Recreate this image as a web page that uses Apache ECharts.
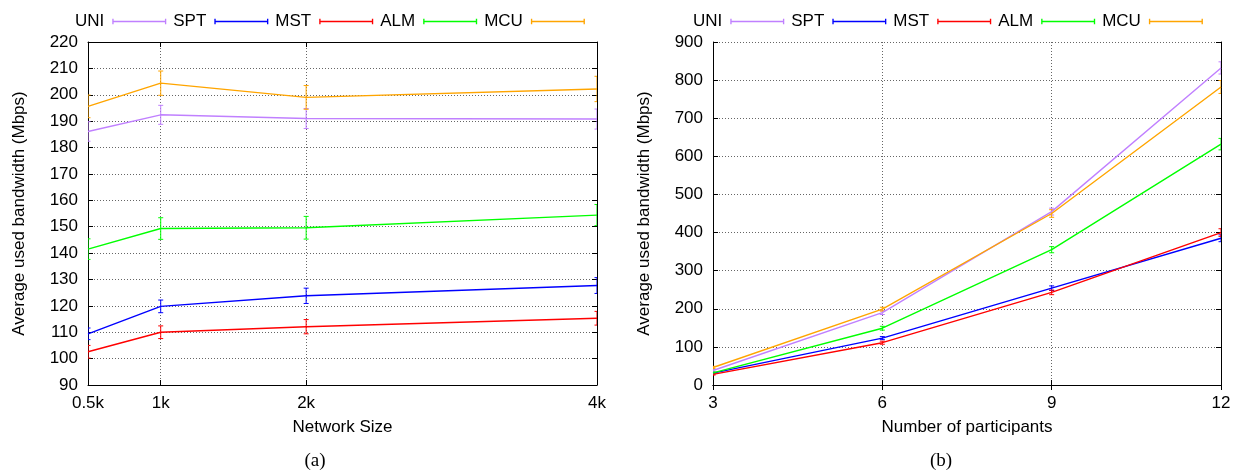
<!DOCTYPE html>
<html>
<head>
<meta charset="utf-8">
<script src="https://cdn.jsdelivr.net/npm/echarts@6/dist/echarts.min.js"></script>
<style>
html,body{margin:0;padding:0;background:#fff;}
#main{width:1236px;height:475px;}
</style>
</head>
<body>
<div id="main"></div>
<script>
//数据
var names = ["UNI", "SPT", "MST", "ALM", "MCU"];
var colors = ["#c080ff", "#0000ff", "#ff0000", "#00ff00", "#ffa500"];

// (a) network size
var sizeTicks = [500, 1000, 2000, 4000];
var sizeLabels = ["0.5k", "1k", "2k", "4k"];
var uniA = [186.1, 192.4, 191.0, 190.8];
var sptA = [109.4, 119.8, 123.8, 127.7];
var mstA = [102.6, 110.0, 112.1, 115.3];
var almA = [141.5, 149.3, 149.6, 154.4];
var mcuA = [195.6, 204.4, 199.0, 202.2];
var uniErrA = [3.7, 3.6, 3.8, 3.8];
var sptErrA = [2.2, 2.4, 2.9, 3.0];
var mstErrA = [2.4, 2.4, 2.7, 2.6];
var almErrA = [3.9, 4.1, 4.3, 4.0];
var mcuErrA = [4.3, 4.6, 4.5, 4.8];

// (b) participants
var partTicks = [3, 6, 9, 12];
var uniB = [38, 190, 455, 832];
var sptB = [31, 123, 254, 385];
var mstB = [28, 111, 243, 400];
var almB = [32, 149, 355, 632];
var mcuB = [46, 199, 450, 782];
var uniErrB = [3, 5, 9, 16];
var sptErrB = [2, 4, 6, 9];
var mstErrB = [2, 4, 6, 10];
var almErrB = [2, 5, 8, 15];
var mcuErrB = [3, 5, 10, 17];

var valsA = [uniA, sptA, mstA, almA, mcuA];
var errsA = [uniErrA, sptErrA, mstErrA, almErrA, mcuErrA];
var valsB = [uniB, sptB, mstB, almB, mcuB];
var errsB = [uniErrB, sptErrB, mstErrB, almErrB, mcuErrB];

var font = "Liberation Sans";
var fs = 17;
var legendIcon = "path://M0,0h2.5v10h-2.5z M0,3.5h100v3h-100z M97.5,0h2.5v10h-2.5z";

/********* 误差线 *********/
function errorBar(params, api){
    var x = api.value(0);
    var top = api.coord([x, api.value(2)]);
    var bot = api.coord([x, api.value(1)]);
    var w = 2.5;
    var style = {stroke : api.visual("color"), lineWidth : 1};
    return {
        type : "group",
        children : [
            {type : "line", shape : {x1 : top[0], y1 : top[1], x2 : bot[0], y2 : bot[1]}, style : style},
            {type : "line", shape : {x1 : top[0] - w, y1 : top[1], x2 : top[0] + w, y2 : top[1]}, style : style},
            {type : "line", shape : {x1 : bot[0] - w, y1 : bot[1], x2 : bot[0] + w, y2 : bot[1]}, style : style}
        ]
    };
}

function $each(arr, fn){
    for(var i = 0; i < arr.length; i++){ fn(i, arr[i]); }
}

function buildSeries(xs, vals, errs, axisIdx){
    var list = [];
    $each(vals, function(i, v){
        var lineData = [], errData = [];
        for(var k = 0; k < xs.length; k++){
            lineData.push([xs[k], v[k]]);
            errData.push([xs[k], v[k] - errs[i][k], v[k] + errs[i][k]]);
        }
        list.push({
            name : names[i],
            type : "line",
            xAxisIndex : axisIdx,
            yAxisIndex : axisIdx,
            data : lineData,
            showSymbol : false,
            symbol : "none",
            lineStyle : {color : colors[i], width : 1.4},
            itemStyle : {color : colors[i]},
            z : 3
        });
        list.push({
            name : names[i],
            type : "custom",
            xAxisIndex : axisIdx,
            yAxisIndex : axisIdx,
            renderItem : errorBar,
            itemStyle : {color : colors[i]},
            data : errData,
            clip : true,
            z : 2
        });
    });
    return list;
}

function legend(left){
    return {
        left : left,
        top : 8,
        align : "right",
        itemWidth : 54,
        itemHeight : 7,
        itemGap : 7,
        selectedMode : false,
        data : names.map(function(n, i){ return {name : n, icon : legendIcon, itemStyle : {color : colors[i], borderWidth : 0}}; }),
        textStyle : {fontFamily : font, fontSize : fs, color : "#000", padding : [0, 3, 0, 0]}
    };
}

var splitStyle = {show : true, lineStyle : {color : "#666", type : [1, 2], width : 1}};
var axLine = {show : true, lineStyle : {color : "#000", width : 1}};
var tick = {show : true, inside : true, length : 5, lineStyle : {color : "#000"}};
var nameStyle = {fontFamily : font, fontSize : fs, color : "#000"};

function sizeLabel(v){
    var i = sizeTicks.indexOf(v);
    return i >= 0 ? sizeLabels[i] : "";
}

var myChart = echarts.init(document.getElementById("main"));

var option = {
    animation : false,
    backgroundColor : "#fff",
    legend : [legend(70), legend(688)],
    grid : [
        {left : 88, top : 42, width : 509, height : 343, outerBoundsMode : "none"},
        {left : 713, top : 42, width : 508, height : 343, outerBoundsMode : "none"}
    ],
    xAxis : [
        {
            type : "value", gridIndex : 0, min : 500, max : 4000,
            name : "Network Size", nameLocation : "middle", nameGap : 34,
            nameTextStyle : nameStyle,
            axisLine : axLine,
            axisTick : {show : true, inside : true, length : 5, lineStyle : {color : "#000"}, customValues : sizeTicks},
            axisLabel : {fontFamily : font, fontSize : fs, color : "#000", margin : 10, customValues : sizeTicks, formatter : sizeLabel},
            splitLine : splitStyle
        },
        {
            type : "value", gridIndex : 1, min : 3, max : 12, interval : 3,
            name : "Number of participants", nameLocation : "middle", nameGap : 34,
            nameTextStyle : nameStyle,
            axisLine : axLine, axisTick : tick,
            axisLabel : {fontFamily : font, fontSize : fs, color : "#000", margin : 10},
            splitLine : splitStyle
        },
        // 上边框
        {
            type : "value", gridIndex : 0, position : "top", min : 500, max : 4000,
            axisLine : axLine,
            axisTick : {show : true, inside : true, length : 5, lineStyle : {color : "#000"}, customValues : sizeTicks},
            axisLabel : {show : false, customValues : sizeTicks}, splitLine : {show : false}
        },
        {
            type : "value", gridIndex : 1, position : "top", min : 3, max : 12, interval : 3,
            axisLine : axLine, axisTick : tick, axisLabel : {show : false}, splitLine : {show : false}
        }
    ],
    yAxis : [
        {
            type : "value", gridIndex : 0, min : 90, max : 220, interval : 10,
            name : "Average used bandwidth (Mbps)", nameLocation : "middle", nameGap : 60,
            nameTextStyle : nameStyle,
            axisLine : axLine, axisTick : tick,
            axisLabel : {fontFamily : font, fontSize : fs, color : "#000", margin : 10},
            splitLine : splitStyle
        },
        {
            type : "value", gridIndex : 1, min : 0, max : 900, interval : 100,
            name : "Average used bandwidth (Mbps)", nameLocation : "middle", nameGap : 60,
            nameTextStyle : nameStyle,
            axisLine : axLine, axisTick : tick,
            axisLabel : {fontFamily : font, fontSize : fs, color : "#000", margin : 10},
            splitLine : splitStyle
        },
        // 右边框
        {
            type : "value", gridIndex : 0, position : "right", min : 90, max : 220, interval : 10,
            axisLine : axLine, axisTick : tick, axisLabel : {show : false}, splitLine : {show : false}
        },
        {
            type : "value", gridIndex : 1, position : "right", min : 0, max : 900, interval : 100,
            axisLine : axLine, axisTick : tick, axisLabel : {show : false}, splitLine : {show : false}
        }
    ],
    graphic : [
        {type : "text", x : 315, y : 452, style : {text : "(a)", font : "19px 'Liberation Serif'", fill : "#000", align : "center", verticalAlign : "top"}},
        {type : "text", x : 941, y : 452, style : {text : "(b)", font : "19px 'Liberation Serif'", fill : "#000", align : "center", verticalAlign : "top"}}
    ],
    series : buildSeries(sizeTicks, valsA, errsA, 0).concat(buildSeries(partTicks, valsB, errsB, 1))
};

myChart.setOption(option);
</script>
</body>
</html>
